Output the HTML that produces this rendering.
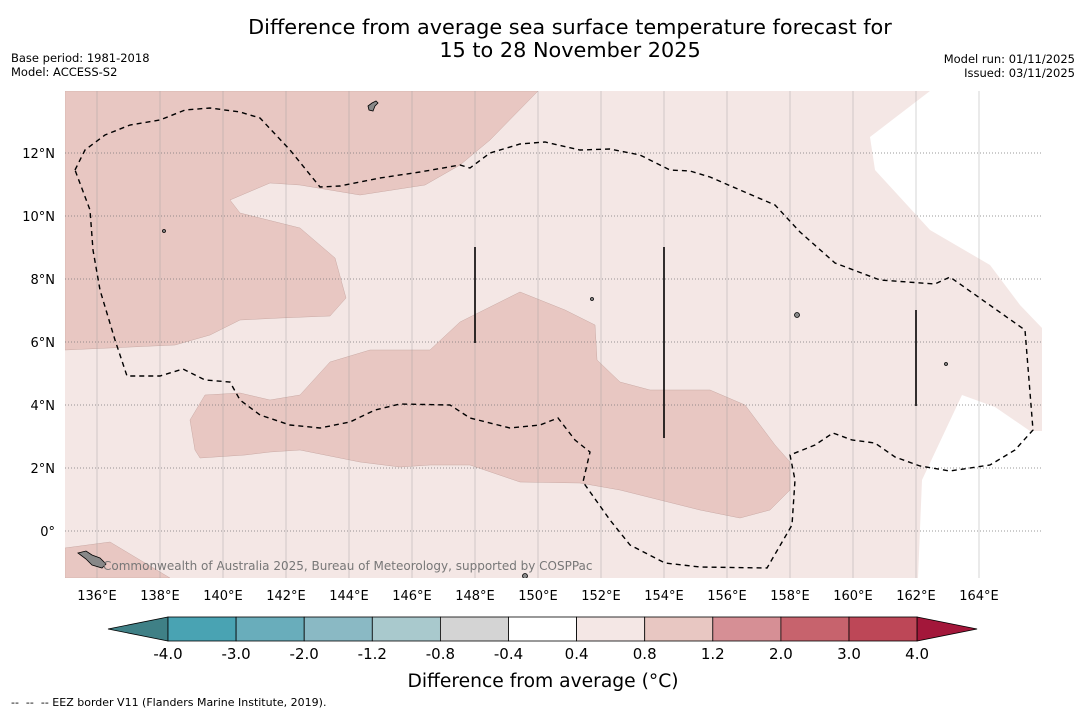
<!DOCTYPE html>
<html><head><meta charset="utf-8"><style>
body{margin:0;background:#fff;font-family:"DejaVu Sans","Liberation Sans",sans-serif;}
svg{display:block}
text{font-family:"DejaVu Sans","Liberation Sans",sans-serif;white-space:pre;}
</style></head><body>
<svg width="1085" height="713" xmlns="http://www.w3.org/2000/svg" id="chart">
<text x="570" y="34" font-size="20.8" text-anchor="middle">Difference from average sea surface temperature forecast for</text>
<text x="570" y="57" font-size="20.8" text-anchor="middle">15 to 28 November 2025</text>
<text x="11" y="62" font-size="11.5">Base period: 1981-2018</text>
<text x="11" y="76" font-size="11.5">Model: ACCESS-S2</text>
<text x="1075" y="63" font-size="11.5" text-anchor="end">Model run: 01/11/2025</text>
<text x="1075" y="77" font-size="11.5" text-anchor="end">Issued: 03/11/2025</text>
<defs><clipPath id="mc"><rect x="65" y="91" width="977" height="487"/></clipPath></defs>
<g clip-path="url(#mc)">
<rect x="65" y="91" width="977" height="487" fill="#f4e7e5"/>
<polygon fill="#fff" points="930,91 1042,91 1042,328 1020,305 990,265 930,230 875,170 870,137"/>
<polygon fill="#fff" points="918,578 922,480 962,395 995,407 1030,431 1042,431 1042,578"/>
<polygon fill="#e8c7c2" stroke="#c9a9a4" stroke-width="0.5" points="65,91 538,91 490,140 460,165 425,185 360,195 300,185 270,183 230,200 240,213 300,228 335,258 346,298 330,316 280,318 240,320 210,335 175,345 65,350"/>
<polygon fill="#e8c7c2" stroke="#c9a9a4" stroke-width="0.5" points="190,420 205,395 240,393 270,400 300,395 330,362 370,350 430,350 460,322 520,292 565,310 595,325 597,360 620,382 650,390 710,390 745,405 775,445 790,462 790,490 770,510 740,518 700,510 620,490 580,483 520,482 470,465 430,465 400,467 360,462 300,450 270,452 245,455 200,458 195,450"/>
<polygon fill="#e8c7c2" stroke="#c9a9a4" stroke-width="0.5" points="65,548 110,542 140,560 170,578 65,578"/>
<g id="grid"></g>
<polyline fill="none" stroke="#000" stroke-width="1.4" stroke-dasharray="5,4" points="75,170 85,150 105,135 130,125 160,120 185,110 210,108 240,112 260,118 290,150 320,187 340,186 380,178 420,172 460,165 470,168 490,153 520,144 545,142 580,150 610,149 640,155 670,170 690,171 710,177 740,190 775,205 800,232 835,263 880,280 935,284 950,277 1025,330 1033,430 1015,450 990,465 950,471 920,466 895,457 875,443 852,440 833,433 815,445 790,455 795,480 792,525 767,568 700,567 665,563 630,545 610,520 583,482 590,452 575,440 558,418 540,425 510,428 470,418 450,405 400,404 375,410 350,422 320,428 290,425 260,415 240,400 230,382 205,380 183,369 160,376 127,376 115,340 100,290 93,250 90,210 75,170"/>
<g stroke="#000" stroke-width="1.6">
<line x1="475" y1="247" x2="475" y2="343"/><line x1="664" y1="247" x2="664" y2="438"/><line x1="916" y1="310" x2="916" y2="406"/></g>
<g fill="#888" stroke="#000" stroke-width="0.8">
<path d="M368,106 l4,-3 4,-2 2,2 -3,3 -2,5 -4,-1z"/><path d="M78,553 l8,-2 6,4 8,3 6,6 -4,4 -10,-3 -6,-6z"/>
<circle cx="797" cy="315" r="2.5"/><circle cx="164" cy="231" r="1.5"/><circle cx="592" cy="299" r="1.5"/><circle cx="946" cy="364" r="1.5"/><circle cx="525" cy="576" r="2.5"/></g>
</g>
<text x="103" y="570" font-size="12" fill="#777">Commonwealth of Australia 2025, Bureau of Meteorology, supported by COSPPac</text>
<g id="axes"></g>
<g id="cbar"></g>
<text x="543" y="687" font-size="18.7" text-anchor="middle">Difference from average (°C)</text>
<text x="11" y="706" font-size="11" xml:space="preserve">--  --  -- EEZ border V11 (Flanders Marine Institute, 2019).</text>
</svg>
<script>
const lonTicks=[136,138,140,142,144,146,148,150,152,154,156,158,160,162,164];
const latTicks=[0,2,4,6,8,10,12];
const cbLevels=["-4.0","-3.0","-2.0","-1.2","-0.8","-0.4","0.4","0.8","1.2","2.0","3.0","4.0"];
const cbColors=["#49a3b3","#69adbb","#8ab9c4","#a9c9cd","#d4d4d4","#ffffff","#f4e7e5","#e8c7c2","#d68f95","#c7636d","#bd4757"];
const NS="http://www.w3.org/2000/svg";
const x=lon=>97+(lon-136)*31.5, y=lat=>531-lat*31.5;
const grid=document.getElementById('grid'), axes=document.getElementById('axes'), cb=document.getElementById('cbar');
function mk(tag,attrs,parent){const e=document.createElementNS(NS,tag);for(const k in attrs)e.setAttribute(k,attrs[k]);parent.appendChild(e);return e;}
lonTicks.forEach(l=>{
 const g=mk('line',{x1:x(l),x2:x(l),y1:91,y2:578,stroke:'#999','stroke-width':0.5,'stroke-opacity':0.8},grid);
 
 
 const t=mk('text',{x:x(l),y:600,'font-size':13,'text-anchor':'middle'},axes);t.textContent=l+'°E';
 
 
});
latTicks.forEach(l=>{
 const g=mk('line',{x1:65,x2:1042,y1:y(l),y2:y(l),stroke:'#777','stroke-width':0.8,'stroke-dasharray':'1,2'},grid);
 
 
 const t=mk('text',{x:55,y:y(l)+5,'font-size':13,'text-anchor':'end'},axes);t.textContent=l===0?'0°':l+'°N';
 
 
});
const cx0=168,cw=68.1,cy=617,ch=24;
const lt=mk('polygon',{points:`108,${cy+ch/2} ${cx0},${cy} ${cx0},${cy+ch}`,fill:'#3f8086',stroke:'#000','stroke-width':0.8},cb);


cbColors.forEach((c,i)=>{
 const r=mk('rect',{x:cx0+i*cw,y:cy,width:cw,height:ch,fill:c,stroke:'#000','stroke-width':0.8},cb);
 
 
});
const xe=cx0+cbColors.length*cw;
const rt=mk('polygon',{points:`${xe},${cy} ${xe+60},${cy+ch/2} ${xe},${cy+ch}`,fill:'#a3173a',stroke:'#000','stroke-width':0.8},cb);


cbLevels.forEach((v,i)=>{
 const t=mk('text',{x:cx0+i*cw,y:659,'font-size':15,'text-anchor':'middle'},cb);t.textContent=v;
 
 
});
</script>
</body></html>
